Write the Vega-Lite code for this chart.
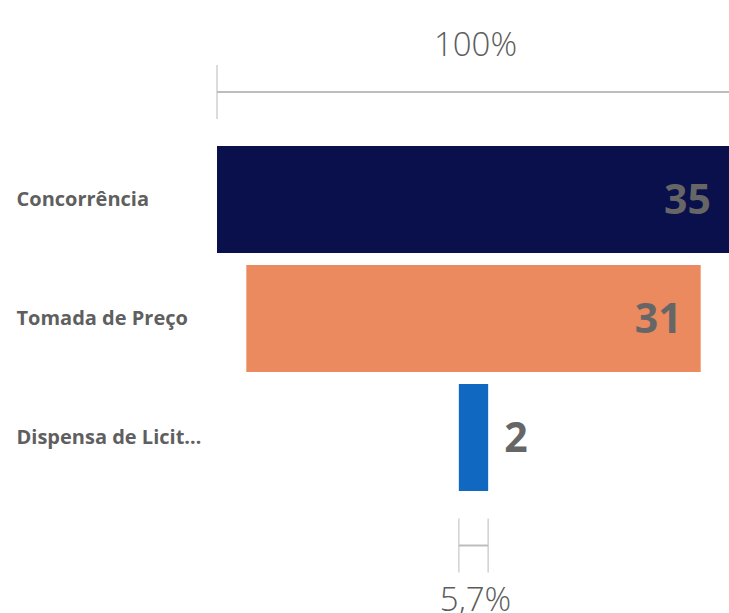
{
  "$schema": "https://vega.github.io/schema/vega-lite/v6.json",
  "autosize": {"type": "none"},
  "padding": {"left": 217, "top": 0, "right": 0, "bottom": 0},
  "width": 513,
  "height": 613,
  "background": "white",
  "config": {"view": {"stroke": null}},
  "data": {
    "values": [
      {"etapa": "Concorrência", "qtd": 35, "pct": "100%"},
      {"etapa": "Tomada de Preço", "qtd": 31, "pct": "88,6%"},
      {"etapa": "Dispensa de Licitação", "qtd": 2, "pct": "5,7%"}
    ]
  },
  "transform": [
    {"stack": "qtd", "groupby": ["etapa"], "offset": "center", "as": ["x0", "x1"]}
  ],
  "encoding": {
    "y": {
      "field": "etapa",
      "type": "nominal",
      "sort": null,
      "scale": {
        "domain": ["Concorrência", "Tomada de Preço", "Dispensa de Licitação"],
        "range": [140, 497],
        "paddingInner": 0.1,
        "paddingOuter": 0.05
      },
      "axis": {
        "title": null,
        "orient": "left",
        "domain": false,
        "ticks": false,
        "tickSize": 0,
        "labelAlign": "left",
        "labelPadding": 201,
        "labelFont": "Open Sans",
        "labelFontWeight": "bold",
        "labelFontSize": 20,
        "labelColor": "#5f5f5f",
        "labelLimit": 196
      }
    }
  },
  "layer": [
    {
      "mark": {"type": "bar"},
      "encoding": {
        "x": {"field": "x0", "type": "quantitative", "scale": {"domain": [0, 35], "nice": false, "zero": false}, "axis": null},
        "x2": {"field": "x1"},
        "color": {
          "field": "etapa",
          "type": "nominal",
          "scale": {
            "domain": ["Concorrência", "Tomada de Preço", "Dispensa de Licitação"],
            "range": ["#0A104B", "#EB895F", "#1168C0"]
          },
          "legend": null
        }
      }
    },
    {
      "transform": [{"filter": "datum.qtd >= 10"}],
      "mark": {"type": "text", "align": "right", "baseline": "middle", "dx": -19, "dy": 2, "font": "Open Sans", "fontWeight": "bold", "fontSize": 41, "color": "#666666"},
      "encoding": {
        "x": {"field": "x1", "type": "quantitative"},
        "text": {"field": "qtd", "type": "quantitative"}
      }
    },
    {
      "transform": [{"filter": "datum.qtd < 10"}],
      "mark": {"type": "text", "align": "left", "baseline": "middle", "dx": 16, "dy": 2, "font": "Open Sans", "fontWeight": "bold", "fontSize": 41, "color": "#666666"},
      "encoding": {
        "x": {"field": "x1", "type": "quantitative"},
        "text": {"field": "qtd", "type": "quantitative"}
      }
    },
    {
      "transform": [{"filter": "datum.etapa === 'Concorrência'"}],
      "mark": {"type": "rule", "color": "#bdbdbd", "strokeWidth": 2, "yOffset": -107.5},
      "encoding": {
        "x": {"field": "x0", "type": "quantitative"},
        "x2": {"field": "x1"}
      }
    },
    {
      "transform": [{"filter": "datum.etapa === 'Dispensa de Licitação'"}],
      "mark": {"type": "rule", "color": "#bdbdbd", "strokeWidth": 2, "yOffset": 108},
      "encoding": {
        "x": {"field": "x0", "type": "quantitative"},
        "x2": {"field": "x1"}
      }
    },
    {
      "transform": [
        {"filter": "datum.etapa === 'Concorrência'"},
        {"fold": ["x0", "x1"], "as": ["lado", "pos"]}
      ],
      "mark": {"type": "tick", "color": "#bdbdbd", "thickness": 1.5, "size": 54, "yOffset": -107.5},
      "encoding": {
        "x": {"field": "pos", "type": "quantitative"}
      }
    },
    {
      "transform": [
        {"filter": "datum.etapa === 'Dispensa de Licitação'"},
        {"fold": ["x0", "x1"], "as": ["lado", "pos"]}
      ],
      "mark": {"type": "tick", "color": "#bdbdbd", "thickness": 1.5, "size": 54, "yOffset": 108},
      "encoding": {
        "x": {"field": "pos", "type": "quantitative"}
      }
    },
    {
      "transform": [
        {"filter": "datum.etapa === 'Concorrência'"},
        {"fold": ["x0", "x1"], "as": ["lado", "pos"]},
        {"aggregate": [{"op": "mean", "field": "pos", "as": "meio"}], "groupby": ["etapa", "pct"]}
      ],
      "mark": {"type": "text", "align": "center", "baseline": "middle", "dx": 2, "dy": -154, "font": "Open Sans", "fontWeight": 300, "fontSize": 33, "color": "#5c5c5c"},
      "encoding": {
        "x": {"field": "meio", "type": "quantitative"},
        "text": {"field": "pct", "type": "nominal"}
      }
    },
    {
      "transform": [
        {"filter": "datum.etapa === 'Dispensa de Licitação'"},
        {"fold": ["x0", "x1"], "as": ["lado", "pos"]},
        {"aggregate": [{"op": "mean", "field": "pos", "as": "meio"}], "groupby": ["etapa", "pct"]}
      ],
      "mark": {"type": "text", "align": "center", "baseline": "middle", "dx": 2, "dy": 163, "font": "Open Sans", "fontWeight": 300, "fontSize": 33, "color": "#5c5c5c"},
      "encoding": {
        "x": {"field": "meio", "type": "quantitative"},
        "text": {"field": "pct", "type": "nominal"}
      }
    }
  ]
}
